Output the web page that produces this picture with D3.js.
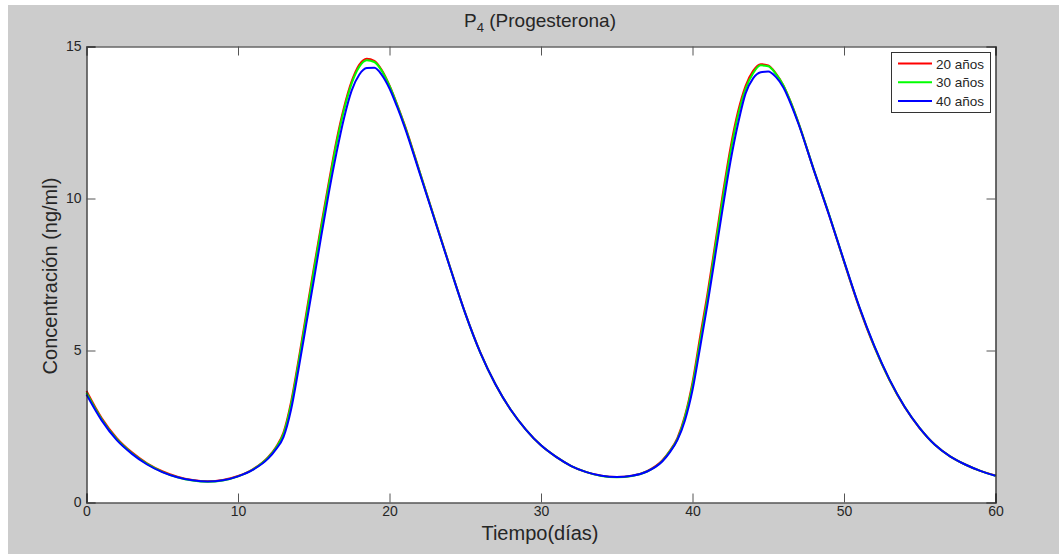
<!DOCTYPE html>
<html>

<head>
    <meta charset="UTF-8" />
    <title>P4 progesterona</title>
    <style>
        body {
            margin: 0;
            padding: 0;
            background: #ffffff;
            font-family: 'Liberation Sans', Arial, Helvetica, sans-serif;
        }
    </style>
</head>

<body>
    <div class="container"></div>

    <script src="https://cdnjs.cloudflare.com/ajax/libs/d3/7.8.5/d3.min.js"></script>
    <script>
        const w = 1059;
        const h = 554;

        // time (days)
        const days = [0, 1, 2, 3, 4, 5, 6, 7, 8, 9, 10, 11, 12, 12.5, 13, 13.5, 14, 14.5, 15, 15.5, 16, 16.5, 17, 17.5,
            18, 18.5, 19, 19.5, 20, 20.5, 21, 22, 23, 24, 25, 26, 27, 28, 29, 30, 31, 32, 33, 34, 35, 36, 37, 38,
            38.5, 39, 39.5, 40, 40.5, 41, 41.5, 42, 42.5, 43, 43.5, 44, 44.5, 45, 45.5, 46, 46.5, 47, 48, 49, 50,
            51, 52, 53, 54, 55, 56, 57, 58, 59, 60];

        const p20 = [3.67, 2.78, 2.12, 1.65, 1.29, 1.03, 0.85, 0.74, 0.7, 0.74, 0.87, 1.1, 1.5, 1.82, 2.3, 3.3, 4.7,
            6.2, 7.7, 9.15, 10.55, 11.9, 13.0, 13.85, 14.4, 14.6, 14.53, 14.22, 13.72, 13.1, 12.42, 10.87, 9.3, 7.74,
            6.23, 4.93, 3.88, 3.05, 2.4, 1.88, 1.5, 1.2, 1.0, 0.88, 0.84, 0.88, 1.03, 1.38, 1.7, 2.12, 2.85, 3.95,
            5.45, 6.9, 8.52, 10.15, 11.65, 12.85, 13.7, 14.2, 14.42, 14.38, 14.12, 13.72, 13.15, 12.48, 10.95, 9.48,
            7.92, 6.42, 5.12, 4.03, 3.14, 2.44, 1.9, 1.52, 1.25, 1.04, 0.89];

        const p30 = [3.61, 2.74, 2.08, 1.62, 1.27, 1.01, 0.83, 0.72, 0.68, 0.72, 0.86, 1.09, 1.48, 1.79, 2.25, 3.22,
            4.6, 6.1, 7.6, 9.05, 10.45, 11.8, 12.92, 13.78, 14.33, 14.55, 14.49, 14.19, 13.7, 13.08, 12.4, 10.86,
            9.29, 7.73, 6.22, 4.92, 3.88, 3.05, 2.4, 1.88, 1.5, 1.2, 1.0, 0.87, 0.83, 0.87, 1.02, 1.36, 1.68, 2.08,
            2.8, 3.85, 5.3, 6.75, 8.38, 10.0, 11.5, 12.72, 13.6, 14.12, 14.38, 14.35, 14.1, 13.72, 13.15, 12.48,
            10.96, 9.5, 7.94, 6.44, 5.14, 4.04, 3.15, 2.45, 1.9, 1.52, 1.25, 1.04, 0.88];

        const p40 = [3.55, 2.7, 2.05, 1.6, 1.25, 1.0, 0.83, 0.73, 0.69, 0.73, 0.86, 1.08, 1.45, 1.75, 2.15, 3.05, 4.4,
            5.85, 7.3, 8.78, 10.2, 11.5, 12.65, 13.55, 14.07, 14.29, 14.3, 14.06, 13.62, 13.02, 12.35, 10.82, 9.27,
            7.72, 6.22, 4.92, 3.88, 3.05, 2.4, 1.88, 1.5, 1.2, 1.0, 0.88, 0.84, 0.88, 1.02, 1.35, 1.65, 2.05, 2.7,
            3.7, 5.1, 6.55, 8.12, 9.7, 11.2, 12.45, 13.45, 13.95, 14.15, 14.18, 14.0, 13.65, 13.1, 12.45, 10.95,
            9.48, 7.95, 6.45, 5.15, 4.05, 3.15, 2.45, 1.9, 1.52, 1.25, 1.04, 0.88];

        const seriesNames = ['20 años', '30 años', '40 años'];
        const seriesColors = ['#ff0000', '#00ff00', '#0000ff'];
        const xTicks = [0, 10, 20, 30, 40, 50, 60];
        const yTicks = [0, 5, 10, 15];

        const series = [p20, p30, p40].map((vals, i) => ({
            name: seriesNames[i],
            color: seriesColors[i],
            pts: days.map((d, j) => ({ t: d, v: vals[j] }))
        }));

        const svg = d3.select('.container').append('svg')
            .attr('width', w)
            .attr('height', h)
            .style('display', 'block')

        // gray figure background
        svg.append('rect')
            .attr('x', 8).attr('y', 5)
            .attr('width', w - 8).attr('height', h - 5)
            .attr('fill', '#cccccc')

        const axL = 86.5, axR = 995.5, axT = 46.5, axB = 502.5;

        const xScale = d3.scaleLinear().domain([0, 60]).range([axL, axR]);
        const yScale = d3.scaleLinear().domain([0, 15]).range([axB, axT]);

        svg.append('rect')
            .attr('x', axL).attr('y', axT)
            .attr('width', axR - axL).attr('height', axB - axT)
            .attr('fill', '#ffffff')

        const lineGen = d3.line()
            .x(d => xScale(d.t))
            .y(d => yScale(d.v))
            .curve(d3.curveMonotoneX)

        const plot = svg.append('g');
        series.forEach(s => {
            plot.append('path')
                .attr('d', lineGen(s.pts))
                .attr('fill', 'none')
                .attr('stroke', s.color)
                .attr('stroke-width', 2)
        });

        // axes, ticks pointing inward
        const xAxis = svg.append('g')
            .attr('transform', `translate(0,${axB})`)
            .call(d3.axisBottom(xScale).tickValues(xTicks).tickSize(-9).tickPadding(4).tickFormat(d3.format('d')))
        const yAxis = svg.append('g')
            .attr('transform', `translate(${axL},0)`)
            .call(d3.axisLeft(yScale).tickValues(yTicks).tickSize(-9).tickPadding(5).tickFormat(d3.format('d')))
        const xTop = svg.append('g')
            .attr('transform', `translate(0,${axT})`)
            .call(d3.axisTop(xScale).tickValues(xTicks).tickSize(-9).tickFormat(''))
        const yRight = svg.append('g')
            .attr('transform', `translate(${axR},0)`)
            .call(d3.axisRight(yScale).tickValues(yTicks).tickSize(-9).tickFormat(''))

        ;[xAxis, yAxis, xTop, yRight].forEach(g => {
            g.attr('font-family', null)
            g.select('.domain').attr('stroke', '#1a1a1a').attr('stroke-width', 1.2)
            g.selectAll('.tick line').attr('stroke', '#555555')
            g.selectAll('.tick text').attr('font-size', 14).attr('fill', '#262626')
        });

        // title with subscript
        const title = svg.append('text')
            .attr('x', 540).attr('y', 27)
            .attr('text-anchor', 'middle')
            .attr('font-size', 19)
            .attr('fill', '#262626')
        title.append('tspan').text('P')
        title.append('tspan').attr('font-size', 13).attr('dy', 5).text('4')
        title.append('tspan').attr('dy', -5).text(' (Progesterona)')

        svg.append('text')
            .attr('x', 540).attr('y', 540)
            .attr('text-anchor', 'middle')
            .attr('font-size', 20)
            .attr('fill', '#262626')
            .text('Tiempo(días)')

        svg.append('text')
            .attr('transform', 'translate(57,276) rotate(-90)')
            .attr('text-anchor', 'middle')
            .attr('font-size', 20)
            .attr('fill', '#262626')
            .text('Concentración (ng/ml)')

        // legend
        const legend = svg.append('g');
        legend.append('rect')
            .attr('x', 891.5).attr('y', 52.5)
            .attr('width', 99).attr('height', 60)
            .attr('fill', '#ffffff')
            .attr('stroke', '#333333')
            .attr('stroke-width', 1)
        series.forEach((s, i) => {
            const y = 63.5 + i * 18.7;
            legend.append('line')
                .attr('x1', 898).attr('x2', 932)
                .attr('y1', y).attr('y2', y)
                .attr('stroke', s.color)
                .attr('stroke-width', 2)
            legend.append('text')
                .attr('x', 936).attr('y', y + 5)
                .attr('font-size', 13.5)
                .attr('fill', '#262626')
                .text(s.name)
        });
    </script>
</body>

</html>
